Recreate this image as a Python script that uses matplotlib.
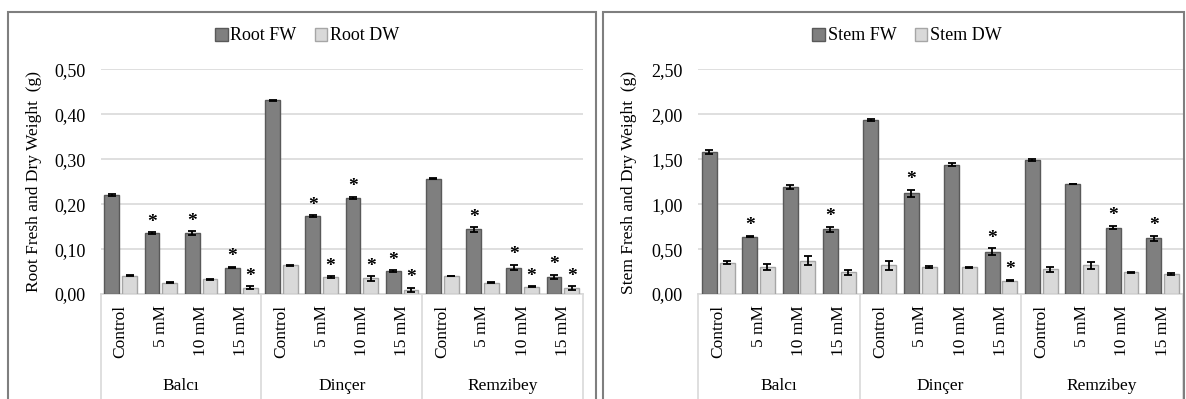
import numpy as np
import matplotlib
matplotlib.use('Agg')
import matplotlib.pyplot as plt
from matplotlib.patches import Rectangle

plt.rcParams['font.family'] = ['Liberation Serif', 'DejaVu Serif']

doses = ['Control', '5 mM', '10 mM', '15 mM']
cultivars = ['Balcı', 'Dinçer', 'Remzibey']

# root weights (g), cultivar by cultivar, dose order as above
root_fw = [0.220, 0.136, 0.136, 0.059, 0.431, 0.174, 0.214, 0.051, 0.257, 0.144, 0.059, 0.038]
root_fw_err = [0.002, 0.002, 0.004, 0.002, 0.002, 0.002, 0.003, 0.002, 0.001, 0.005, 0.006, 0.005]
root_dw = [0.041, 0.025, 0.033, 0.014, 0.064, 0.037, 0.035, 0.009, 0.040, 0.025, 0.016, 0.014]
root_dw_err = [0.001, 0.001, 0.001, 0.003, 0.001, 0.002, 0.005, 0.005, 0.001, 0.001, 0.001, 0.004]
root_fw_sig = [0, 1, 1, 1, 0, 1, 1, 1, 0, 1, 1, 1]
root_dw_sig = [0, 0, 0, 1, 0, 1, 1, 1, 0, 0, 1, 1]

# stem weights (g)
stem_fw = [1.58, 0.64, 1.19, 0.72, 1.94, 1.12, 1.44, 0.47, 1.49, 1.225, 0.74, 0.62]
stem_fw_err = [0.02, 0.01, 0.02, 0.03, 0.01, 0.04, 0.02, 0.04, 0.01, 0.005, 0.02, 0.03]
stem_dw = [0.35, 0.30, 0.37, 0.24, 0.32, 0.30, 0.30, 0.15, 0.275, 0.32, 0.24, 0.22]
stem_dw_err = [0.02, 0.03, 0.05, 0.03, 0.05, 0.01, 0.005, 0.01, 0.03, 0.04, 0.01, 0.01]
stem_fw_sig = [0, 1, 0, 1, 0, 1, 0, 1, 0, 0, 1, 1]
stem_dw_sig = [0, 0, 0, 0, 0, 0, 0, 1, 0, 0, 0, 0]

W, H = 1186, 399
FW_COLOR, FW_EDGE = '#7f7f7f', '#595959'
DW_COLOR, DW_EDGE = '#d9d9d9', '#a6a6a6'
GRID = '#d9d9d9'


def draw_panel(fig, rect, fw, fw_err, dw, dw_err, fw_sig, dw_sig,
               ymax, step, names, ylabel, ylabel_x, legend_x):
    ax = fig.add_axes(rect)
    x = np.arange(len(fw))
    w = 0.37
    b1 = ax.bar(x - 0.22, fw, w, color=FW_COLOR, edgecolor=FW_EDGE, linewidth=1.0, zorder=3)
    b2 = ax.bar(x + 0.22, dw, w, color=DW_COLOR, edgecolor=DW_EDGE, linewidth=1.0, zorder=3)
    ax.errorbar(x - 0.22, fw, yerr=fw_err, fmt='none', ecolor='black', elinewidth=1.3,
                capsize=3, capthick=1.3, zorder=4)
    ax.errorbar(x + 0.22, dw, yerr=dw_err, fmt='none', ecolor='black', elinewidth=1.3,
                capsize=3, capthick=1.3, zorder=4)

    # significance marks
    for xs, vals, errs, sig in ((x - 0.22, fw, fw_err, fw_sig), (x + 0.22, dw, dw_err, dw_sig)):
        for xi, v, e, s in zip(xs, vals, errs, sig):
            if s:
                ax.annotate('*', (xi, v + e), xytext=(0, 1), textcoords='offset points',
                            ha='center', va='bottom', fontsize=14, fontweight='bold', zorder=5)

    ax.set_xlim(-0.5, len(fw) - 0.5)
    ax.set_ylim(0, ymax)
    ticks = np.arange(0, ymax + step / 2, step)
    ax.set_yticks(ticks)
    ax.set_yticklabels([f'{t:.2f}'.replace('.', ',') for t in ticks], fontsize=13)
    ax.tick_params(axis='y', length=0, pad=11)
    ax.set_xticks([])
    ax.grid(axis='y', color=GRID, linewidth=1.2, zorder=0)
    for s in ['top', 'right', 'left']:
        ax.spines[s].set_visible(False)
    ax.spines['bottom'].set_color(GRID)
    ax.spines['bottom'].set_linewidth(1.2)

    # two-level category axis
    tr = ax.get_xaxis_transform()
    for i in range(len(fw)):
        ax.text(i, -0.05, doses[i % 4], transform=tr, rotation=90, ha='center', va='top',
                fontsize=12.5)
    for g, name in enumerate(names):
        ax.text(g * 4 + 1.5, -0.41, name, transform=tr, ha='center', va='center', fontsize=12.5)
    for xb in (-0.5, 3.5, 7.5, 11.5):
        ax.plot([xb, xb], [0, -0.6], transform=tr, color=GRID, linewidth=1.2, clip_on=False)

    fig.text(ylabel_x / W, 1 - 182 / H, ylabel, rotation=90, ha='center', va='center',
             fontsize=12.5)
    fig.legend([b1, b2], [ylabel.split()[0] + ' FW', ylabel.split()[0] + ' DW'],
               loc='center', bbox_to_anchor=(legend_x / W, 1 - 36 / H), ncol=2,
               frameon=False, fontsize=13, handlelength=0.7, handleheight=0.7,
               handletextpad=0.15, columnspacing=1.0, borderpad=0)
    return ax


fig = plt.figure(figsize=(W / 100, H / 100), dpi=100)

# panel frames
fig.patches.append(Rectangle((8 / W, -0.1), (596 - 8) / W, 1.1 - 12 / H, transform=fig.transFigure,
                             fill=False, edgecolor='#7f7f7f', linewidth=1.5))
fig.patches.append(Rectangle((603 / W, -0.1), (1184 - 603) / W, 1.1 - 12 / H, transform=fig.transFigure,
                             fill=False, edgecolor='#7f7f7f', linewidth=1.5))

bottom = (H - 294) / H
height = (294 - 69.5) / H
draw_panel(fig, [100.6 / W, bottom, (583 - 100.6) / W, height],
           root_fw, root_fw_err, root_dw, root_dw_err, root_fw_sig, root_dw_sig,
           0.5, 0.1, cultivars, 'Root Fresh and Dry Weight  (g)', 34, 307)
draw_panel(fig, [698 / W, bottom, (1182.7 - 698) / W, height],
           stem_fw, stem_fw_err, stem_dw, stem_dw_err, stem_fw_sig, stem_dw_sig,
           2.5, 0.5, cultivars, 'Stem Fresh and Dry Weight  (g)', 629, 907)

fig.savefig('out.png', dpi=100)
